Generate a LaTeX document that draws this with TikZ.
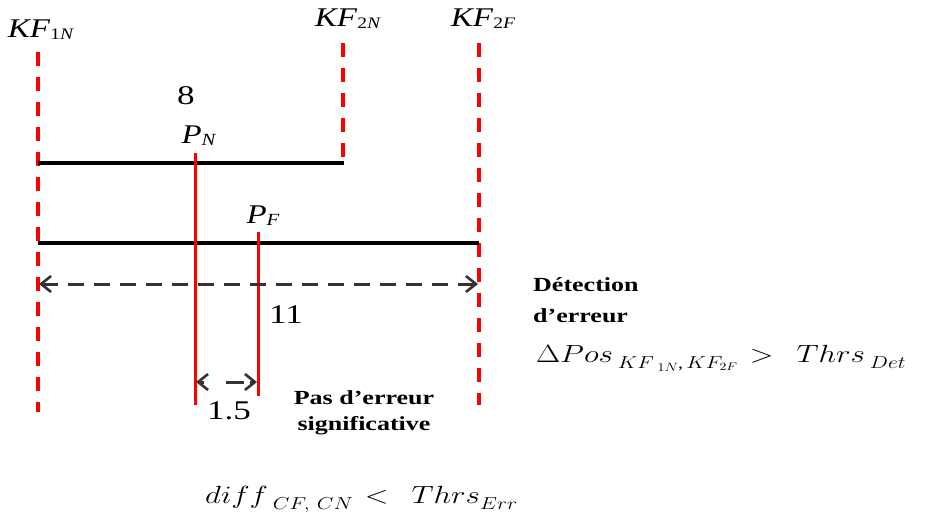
\documentclass[tikz,border=0pt]{standalone}
\usepackage{fontspec}
\setmainfont{Liberation Serif}
\usetikzlibrary{arrows.meta}
\begin{document}
\begin{tikzpicture}[x=1pt,y=-1pt,
  kfline/.style={red, line width=3.4pt, dash pattern=on 14pt off 11pt},
  posline/.style={red, line width=3pt},
  track/.style={black, line width=3.4pt},
  dimarrow/.style={black!80, line width=3pt, dash pattern=on 16pt off 10pt, {Straight Barb[length=10pt,width=16pt,line width=2.6pt]}-{Straight Barb[length=10pt,width=16pt,line width=2.6pt]}},
  lbl/.style={inner sep=0pt, font=\fontsize{27}{30}\selectfont},
  note/.style={inner sep=0pt, font=\fontsize{20}{20}\selectfont\bfseries},
  frm/.style={inner sep=0pt, font=\fontsize{23}{28}\selectfont}]
\useasboundingbox (0,0) rectangle (925,527);
\newcommand{\kfl}[2]{\scalebox{1.22}[1]{\textit{KF}\raisebox{-2pt}{\fontsize{16}{16}\selectfont #1\textit{#2}}}}
\newcommand{\wide}[1]{\scalebox{1.3}[1]{#1}}
\newcommand{\subm}[1]{\raisebox{-6pt}{\fontsize{16}{16}\selectfont #1}}
\newcommand{\subsubm}[1]{\raisebox{-3pt}{\fontsize{13}{13}\selectfont #1}}
% keyframe positions
\coordinate (k1t) at (38,52);  \coordinate (k1b) at (38,412);
\coordinate (k2t) at (343,43); \coordinate (k2b) at (343,162);
\coordinate (k3t) at (479,43); \coordinate (k3b) at (479,405);
\node[lbl] (KF1N) at (41,30) {\kfl{1}{N}};
\node[lbl] (KF2N) at (348,19) {\kfl{2}{N}};
\node[lbl] (KF2F) at (483,19) {\kfl{2}{F}};
\draw[kfline] (k1t) -- (k1b);
\draw[kfline] (k2t) -- (k2b);
\draw[kfline] (k3t) -- (k3b);
% tracks
\coordinate (t1a) at (38,163); \coordinate (t1b) at (344,163);
\coordinate (t2a) at (38,243); \coordinate (t2b) at (479,243);
\draw[track, line width=4pt] (t1a) -- (t1b);
\draw[track] (t2a) -- (t2b);
% positions
\coordinate (pnt) at (195,153); \coordinate (pnb) at (195,405);
\coordinate (pft) at (258,232); \coordinate (pfb) at (258,396);
\draw[posline] (pnt) -- (pnb);
\draw[posline] (pft) -- (pfb);
\node[lbl] (eight) at (186,96) {\wide{8}};
\node[lbl] (PN) at (199,136) {\scalebox{1.22}[1]{\textit{P}\raisebox{-2pt}{\fontsize{17}{17}\selectfont\textit{N}}}};
\node[lbl] (PF) at (263,216) {\scalebox{1.22}[1]{\textit{P}\raisebox{-2pt}{\fontsize{17}{17}\selectfont\textit{F}}}};
% dimension arrows
\coordinate (d1a) at (39,284); \coordinate (d1b) at (478,284);
\draw[dimarrow] (d1a) -- (d1b);
\node[lbl] (eleven) at (286,315) {\wide{11}};
\coordinate (d2a) at (196,382); \coordinate (d2b) at (257,382);
\draw[dimarrow, dash pattern=on 5pt off 22pt on 18pt off 6pt on 30pt off 0pt] (d2a) -- (d2b);
\node[lbl] (onefive) at (229,411) {\wide{1.5}};
% notes
\node[note] (pas1) at (364,398) {\wide{Pas d’erreur}};
\node[note] (pas2) at (364,426) {\wide{significative}};
\node[note, anchor=west] (det1) at (533,285) {\wide{Détection}};
\node[note, anchor=west] (det2) at (533,316) {\wide{d’erreur}};
\node[frm, anchor=west] (f1) at (536,358) {\scalebox{1.25}[1]{$\Delta Pos$\,\subm{$KF$\,\subsubm{$1N$},\,$KF_{2F}$}\, $>$\;\; $Thrs$\,\subm{$Det$}}};
\node[frm, anchor=west] (f2) at (205,500) {\scalebox{1.25}[1]{$diff$\,\subm{$CF,\,CN$}\, $<$\;\; $Thrs$\subm{$Err$}}};
\end{tikzpicture}
\end{document}
